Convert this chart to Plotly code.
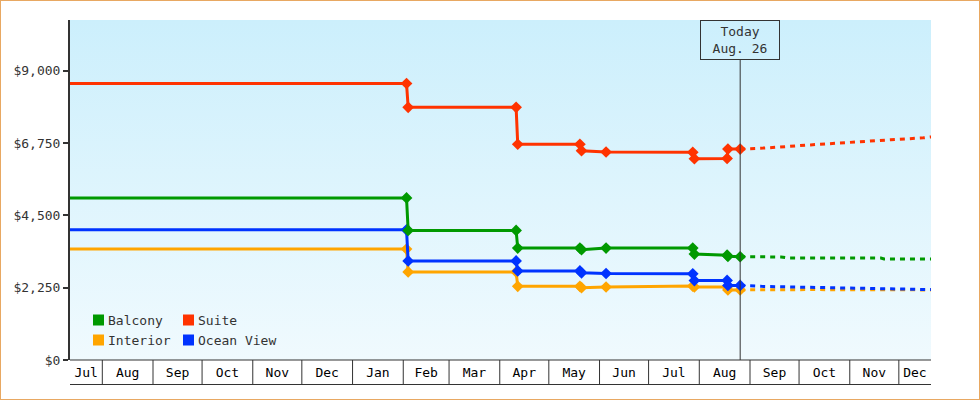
import pandas as pd
import plotly.graph_objects as go

# observed fares: every change is two points a day apart, so the step shows
price_dates = ["2013-07-12", "2014-02-03", "2014-02-04", "2014-04-11", "2014-04-12",
               "2014-05-20", "2014-05-21", "2014-06-05", "2014-07-28", "2014-07-29",
               "2014-08-18", "2014-08-18 12:00", "2014-08-26"]
balcony = [5040, 5040, 4030, 4030, 3480, 3480, 3430, 3480, 3480, 3295, 3260, 3225, 3212]
suite = [8600, 8600, 7860, 7860, 6710, 6710, 6510, 6470, 6460, 6260, 6270, 6560, 6560]
interior = [3450, 3450, 2740, 2740, 2290, 2290, 2250, 2270, 2300, 2270, 2270, 2180, 2180]
ocean_view = [4050, 4050, 3080, 3080, 2770, 2770, 2710, 2690, 2680, 2470, 2475, 2320, 2320]

# projected fares after today
balcony_fc_dates = ["2014-08-26", "2014-09-20", "2014-09-24", "2014-11-20", "2014-11-22", "2014-12-21"]
balcony_fc = [3212, 3205, 3175, 3170, 3140, 3140]
suite_fc_dates = ["2014-08-26", "2014-09-09", "2014-10-08", "2014-10-27", "2014-11-26", "2014-12-16", "2014-12-21"]
suite_fc = [6560, 6590, 6690, 6760, 6850, 6910, 6940]
interior_fc_dates = ["2014-08-26", "2014-10-08", "2014-12-21"]
interior_fc = [2180, 2190, 2180]
ocean_fc_dates = ["2014-08-26", "2014-09-08", "2014-10-08", "2014-11-05", "2014-12-05", "2014-12-21"]
ocean_fc = [2320, 2290, 2260, 2230, 2210, 2190]

today = "2014-08-26"
x_start, x_end = "2013-07-12 06:00", "2014-12-20 16:00"
y_max = 10575
y_ticks = [0, 2250, 4500, 6750, 9000]

FONT = "DejaVu Sans Mono"
INK = "#333333"
W, H = 980, 400
ML, MR, MT, MB = 70, 49, 20, 40
PW, PH = W - ML - MR, H - MT - MB


def px_x(px):
    return (px - ML) / PW


def px_y(py):
    return (H - MB - py) / PH


# drawn back to front: orange under blue under green under red
series = [
    ("Interior", "#FFA500", interior, interior_fc_dates, interior_fc),
    ("Ocean View", "#0033FF", ocean_view, ocean_fc_dates, ocean_fc),
    ("Balcony", "#009900", balcony, balcony_fc_dates, balcony_fc),
    ("Suite", "#FF3300", suite, suite_fc_dates, suite_fc),
]

fig = go.Figure()

# plot background gradient
fig.add_trace(go.Scatter(
    x=[x_start, x_end, x_end, x_start, x_start], y=[0, 0, y_max, y_max, 0],
    mode="none", fill="toself", hoverinfo="skip", showlegend=False,
    fillgradient=dict(type="vertical", colorscale=[[0, "#F0FAFE"], [1, "#CCEFFC"]]),
))

for name, color, vals, fc_dates, fc_vals in series:
    fig.add_trace(go.Scatter(
        x=fc_dates, y=fc_vals, mode="lines", showlegend=False, hoverinfo="skip",
        line=dict(color=color, width=3, dash="5px,5px"),
    ))
for name, color, vals, fc_dates, fc_vals in series:
    fig.add_trace(go.Scatter(
        x=price_dates, y=vals, mode="lines+markers", name=name, showlegend=False,
        line=dict(color=color, width=3),
        marker=dict(symbol="diamond", size=9, color=color),
        cliponaxis=False,
    ))

# month cells under the plot
lo, hi = pd.Timestamp(x_start), pd.Timestamp(x_end)
months = pd.date_range("2013-07-01", "2015-01-01", freq="MS")
tickvals, ticktext = [], []
for a, b in zip(months[:-1], months[1:]):
    s, e = max(a, lo), min(b, hi)
    if s < e:
        tickvals.append(s + (e - s) / 2)
        ticktext.append(a.strftime("%b"))

shapes = []
cell_bottom = px_y(H - MB + 24.5)
for m in months:
    if lo < m < hi:
        shapes.append(dict(type="line", xref="x", yref="paper", x0=m, x1=m, y0=0, y1=cell_bottom,
                           line=dict(color=INK, width=1)))
for yy in (0, cell_bottom):
    shapes.append(dict(type="line", xref="paper", yref="paper", x0=0, x1=1, y0=yy, y1=yy,
                       line=dict(color=INK, width=1)))

# today marker line
shapes.append(dict(type="line", xref="x", yref="paper", x0=today, x1=today, y0=0, y1=1 - 40 / PH,
                   line=dict(color=INK, width=1)))

# outer frame
shapes.append(dict(type="rect", xref="paper", yref="paper",
                   x0=px_x(0), x1=px_x(W), y0=px_y(H), y1=px_y(0),
                   line=dict(color="#E8A862", width=2)))

annotations = [dict(
    x=today, y=1, xref="x", yref="paper", yanchor="top", xanchor="center",
    text="Today<br>Aug. 26", showarrow=False, width=76, height=36,
    bordercolor=INK, borderwidth=1, font=dict(family=FONT, size=13, color=INK),
)]

# legend: two columns of square swatches
legend_items = [("Balcony", "#009900", 0, 0), ("Suite", "#FF3300", 1, 0),
                ("Interior", "#FFA500", 0, 1), ("Ocean View", "#0033FF", 1, 1)]
for name, color, col, row in legend_items:
    sx = 93 + col * 90
    sy = 320 + row * 20
    shapes.append(dict(type="rect", xref="paper", yref="paper",
                       x0=px_x(sx), x1=px_x(sx + 11), y0=px_y(sy + 5.5), y1=px_y(sy - 5.5),
                       fillcolor=color, line=dict(width=0)))
    annotations.append(dict(x=px_x(sx + 13), y=px_y(sy), xref="paper", yref="paper",
                            xanchor="left", yanchor="middle", text=name, showarrow=False,
                            font=dict(family=FONT, size=13, color=INK)))

fig.update_layout(
    width=W, height=H, margin=dict(l=ML, r=MR, t=MT, b=MB),
    paper_bgcolor="white", plot_bgcolor="white",
    font=dict(family=FONT, size=13, color=INK),
    shapes=shapes, annotations=annotations, showlegend=False,
)
fig.update_xaxes(range=[x_start, x_end], tickvals=tickvals, ticktext=ticktext,
                 ticks="", ticklabelstandoff=3, showline=False, showgrid=False, zeroline=False,
                 tickfont=dict(family=FONT, size=13, color="#000000"))
fig.update_yaxes(range=[0, y_max], tickvals=y_ticks, tickformat="$,.0f",
                 ticks="outside", ticklen=5, tickwidth=2, tickcolor=INK,
                 showline=True, linecolor=INK, linewidth=2,
                 showgrid=False, zeroline=False,
                 tickfont=dict(family=FONT, size=13, color=INK))

# page margin off so the frame sits on the window edge
fig.write_html("out.html", config={"displayModeBar": False},
               post_script="document.body.style.margin='0';")
